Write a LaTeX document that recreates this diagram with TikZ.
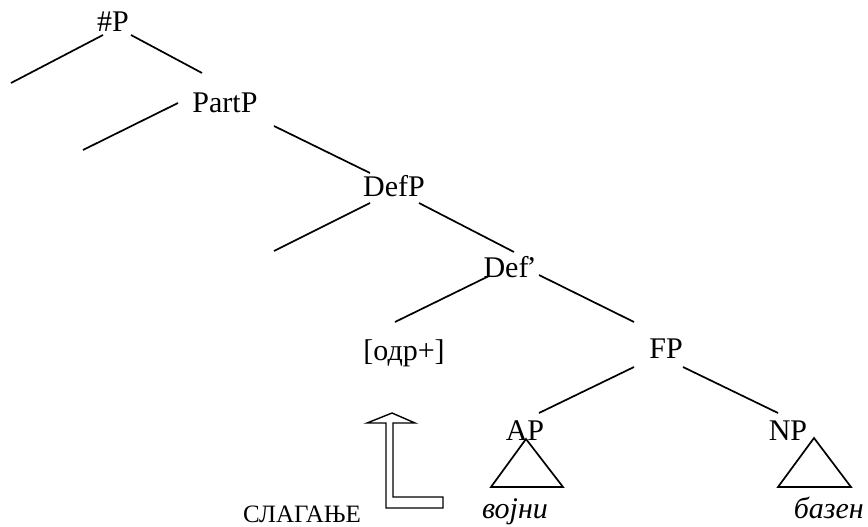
\documentclass[tikz,border=0pt]{standalone}
\usepackage{fontspec}
\setmainfont{Liberation Serif}
\begin{document}
\begin{tikzpicture}[
		x=1pt,y=-1pt,
		line width=1.7pt,
		cat/.style={anchor=base,inner sep=0pt,font=\fontsize{30}{36}\selectfont},
		word/.style={cat,font=\fontsize{30}{36}\selectfont\itshape}
	]
	\useasboundingbox (0,0) rectangle (868,527);
	% categories
	\node[cat] (hashP) at (113,32) {\#P};
	\node[cat] (partP) at (225,113) {PartP};
	\node[cat] (defP) at (394,196) {DefP};
	\node[cat] (defbar) at (510,277) {Def\kern-2pt’};
	\node[cat] (odr) at (404,360) {[одр+]};
	\node[cat] (fP) at (666,358) {FP};
	\node[cat] (aP) at (525,440) {AP};
	\node[cat] (nP) at (788,440) {NP};
	\node[word] (vojni) at (515,518) {војни};
	\node[word,anchor=base west] (bazen) at (793,518) {базен};
	\node[cat,font=\fontsize{25}{30}\selectfont] (slaganje) at (302,522) {СЛАГАЊЕ};
	% empty branches
	\coordinate (e1) at (11,83);
	\coordinate (e2) at (83,150);
	\coordinate (e3) at (274,251);
	\draw ([shift={(-10,3)}]hashP.base) -- (e1);
	\draw ([shift={(18,3)}]hashP.base) -- ([shift={(-23,-40)}]partP.base);
	\draw ([shift={(-47,-10)}]partP.base) -- (e2);
	\draw ([shift={(49,13)}]partP.base) -- ([shift={(-24,-23)}]defP.base);
	\draw ([shift={(-24,7)}]defP.base) -- (e3);
	\draw ([shift={(25,7)}]defP.base) -- ([shift={(4,-25)}]defbar.base);
	\draw ([shift={(-21,-1)}]defbar.base) -- ([shift={(-9,-38)}]odr.base);
	\draw ([shift={(29,-2)}]defbar.base) -- ([shift={(-32,-36)}]fP.base);
	\draw ([shift={(-32,9)}]fP.base) -- ([shift={(14,-27)}]aP.base);
	\draw ([shift={(17,9)}]fP.base) -- ([shift={(-10,-27)}]nP.base);
	% triangles
	\draw ([shift={(1,-1)}]aP.base) -- ++(-35,48) -- ++(72,0) -- cycle;
	\draw ([shift={(26,-2)}]nP.base) -- ++(-36,49) -- ++(73,0) -- cycle;
	% movement arrow
	\draw[line width=1.4pt] (392,413) -- (415,423) -- (393,423) -- (393,497) -- (443,497)
		-- (443,508) -- (386,508) -- (386,423) -- (367,423) -- cycle;
\end{tikzpicture}
\end{document}
